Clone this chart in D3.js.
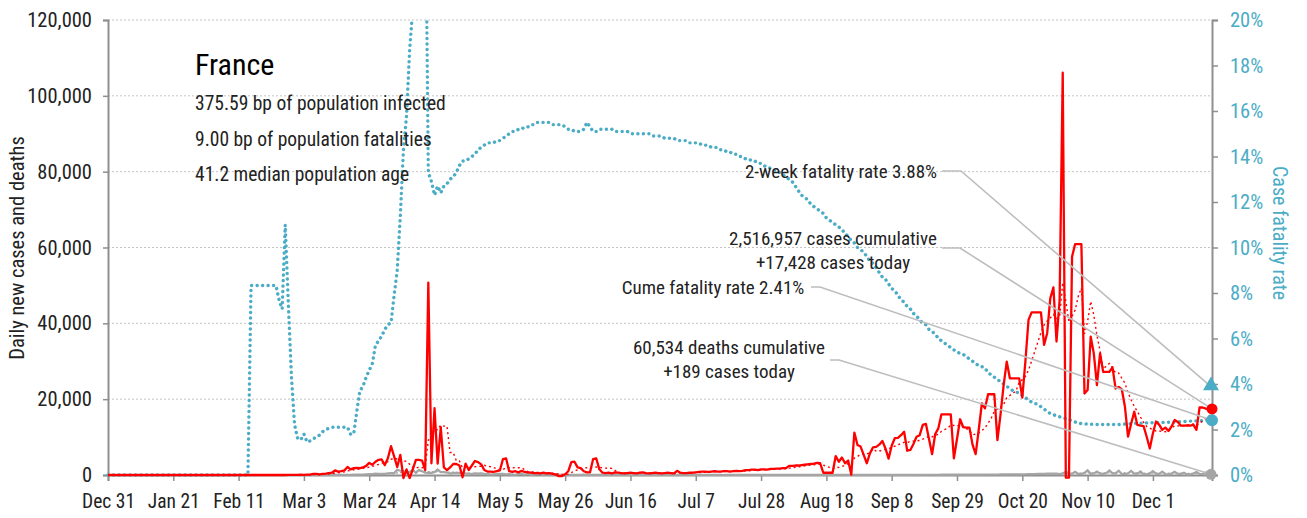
<!DOCTYPE html>
<html><head><meta charset="utf-8">
<script src="https://cdn.jsdelivr.net/npm/d3@7"></script>
<style>
body{margin:0;background:#fff;}
svg text{font-family:"Liberation Sans Narrow","Roboto Condensed","DejaVu Sans Condensed","Arial Narrow",sans-serif;}
</style></head><body>
<svg id="chart" width="1307" height="518"></svg>
<script>
// ---------- DATA ----------
const startDate = [2019, 11, 31]; // Dec 31, 2019 (UTC), one value per day
const cases = [
0,0,0,0,0,0,0,0,0,0,
0,0,0,0,0,0,0,0,0,0,
0,0,0,0,3,0,0,0,1,0,
1,0,0,0,0,0,0,0,1,0,
0,0,0,0,0,0,1,0,0,0,
0,0,0,0,0,0,2,4,20,19,
43,50,60,20,80,100,280,300,180,290,
370,500,600,1200,900,1000,1200,2100,1500,1800,
1900,1800,2000,2400,3200,2700,3500,4000,4100,2600,
4400,7600,4900,2100,5300,-800,1500,-800,1500,4000,
4000,3800,1300,50700,3100,17600,3000,12600,2000,1300,
2000,2900,2900,2500,-600,3000,1300,2500,3700,3400,
2800,1300,900,900,800,1000,1200,4200,4400,1000,
800,1000,700,1100,800,700,600,500,500,400,
600,400,500,300,100,-300,-300,200,1000,3400,
3500,2000,1800,1000,700,700,4200,4400,1500,600,
500,600,400,700,600,500,400,500,600,500,
400,600,700,500,400,500,600,500,400,500,
600,500,400,1100,600,500,500,600,600,700,
800,900,900,800,900,1000,900,900,1000,1000,
900,1000,1100,1000,1100,1300,1300,1400,1400,1300,
1500,1500,1400,1600,1600,1700,1700,1800,1800,2400,
2400,2500,2500,2600,2700,2800,2900,3000,3200,3100,
600,600,600,600,5000,3500,4600,3100,3800,100,
11200,7900,7500,5300,3100,5700,7300,7400,8000,9000,
7000,4300,7700,9700,9800,10500,11400,6400,6600,8200,
10100,10500,13200,13500,9500,5500,10800,12300,16000,16000,
16000,16000,4400,9500,14700,12600,12500,12500,8000,5500,
12000,18900,17600,21300,21300,21300,9200,16000,23700,29900,
25500,25500,25500,25500,20400,30000,40900,42900,42900,42900,
42900,34300,37400,46600,49500,35200,46100,106100,-700,-700,
57600,60900,60900,60900,21500,22400,36500,32000,23700,32100,
27200,27200,27200,28400,22800,23200,22600,18000,10100,13500,
16700,13200,13000,12900,10100,7000,11000,14100,13300,11900,
12500,11600,12800,14500,14000,13000,13000,13100,13000,13300,
11900,17800,17800,17500,17300,17428
];
const deaths = [
0,0,0,0,0,0,0,0,0,0,
0,0,0,0,0,0,0,0,0,0,
0,0,0,0,0,0,0,0,0,0,
0,0,0,0,0,0,0,0,0,0,
0,0,0,0,0,0,1,0,0,0,
0,0,0,0,0,0,0,0,0,0,
0,1,0,1,0,1,2,2,9,9,
14,15,14,13,12,36,21,27,69,128,
78,112,112,186,240,231,365,299,319,292,
418,499,509,1355,1120,1053,518,833,1417,541,
1341,987,635,561,574,762,1438,753,761,642,
395,547,531,544,516,389,369,242,437,367,
427,289,218,166,135,306,330,278,178,243,
80,70,263,348,83,351,104,96,483,131,
186,110,73,90,83,66,65,35,43,52,
57,31,31,100,25,44,46,27,13,29,
24,9,23,29,28,24,10,9,28,111,
14,28,11,22,13,12,22,20,15,19,
25,30,17,15,14,11,7,4,10,14,
15,16,11,10,12,11,7,11,5,12,
16,14,9,8,7,11,9,10,14,13,
12,8,9,10,9,8,11,10,12,9,
11,13,10,12,14,11,15,12,13,16,
14,17,15,18,16,19,17,20,22,21,
19,24,23,25,26,30,28,32,35,33,
30,38,42,40,45,50,48,46,52,55,
58,60,54,62,65,70,68,72,75,80,
78,85,82,90,88,95,100,92,105,110,
98,112,120,125,130,118,135,140,150,145,
160,170,165,180,190,200,220,240,260,280,
300,320,340,360,380,400,230,420,854,385,
363,828,306,271,551,1220,328,425,932,354,
302,506,1219,428,425,1138,276,213,458,1059,
382,357,922,202,184,400,1001,377,310,876,
213,174,377,831,292,294,627,157,150,381,
816,289,261,680,174,189
];
const cfrPct = [
0,0,0,0,0,0,0,0,0,0,
0,0,0,0,0,0,0,0,0,0,
0,0,0,0,0,0,0,0,0,0,
0,0,0,0,0,0,0,0,0,0,
0,0,0,0,0,0,8.33,8.33,8.33,8.33,
8.33,8.33,8.33,8.33,8.33,7.7,7.3,11.0,7.5,4.3,
2.2,1.6,1.55,1.8,1.45,1.5,1.6,1.65,1.75,1.9,
2.0,2.05,2.1,2.1,2.1,2.1,2.1,2.1,1.8,1.8,
2.8,3.7,3.9,4.3,4.6,4.9,5.7,5.9,6.1,6.4,
6.6,6.7,7.9,9.0,11.4,14.3,15.8,18.7,20.5,23.0,
25.0,26.5,27.0,13.3,12.9,12.3,12.7,12.4,12.7,12.8,
13.0,13.1,13.3,13.6,13.8,13.8,13.9,14.0,14.1,14.3,
14.4,14.5,14.6,14.6,14.6,14.7,14.7,14.8,14.9,15.0,
15.1,15.1,15.2,15.2,15.3,15.3,15.4,15.4,15.5,15.5,
15.5,15.5,15.5,15.4,15.4,15.4,15.4,15.3,15.2,15.2,
15.1,15.1,15.1,15.2,15.5,15.3,15.1,15.1,15.2,15.2,
15.2,15.2,15.2,15.1,15.1,15.1,15.1,15.1,15.0,15.0,
15.0,15.0,15.0,15.0,15.0,14.9,14.9,14.9,14.9,14.8,
14.8,14.8,14.8,14.7,14.7,14.7,14.7,14.6,14.6,14.6,
14.6,14.5,14.5,14.5,14.4,14.4,14.4,14.3,14.3,14.2,
14.2,14.1,14.1,14.0,14.0,13.9,13.9,13.8,13.8,13.7,
13.7,13.6,13.5,13.5,13.4,13.3,13.3,13.2,13.1,13.0,
12.9,12.7,12.5,12.3,12.2,12.1,11.9,11.8,11.7,11.6,
11.5,11.3,11.2,11.1,11.0,10.9,10.8,10.6,10.5,10.3,
10.2,10.0,9.9,9.8,9.6,9.4,9.3,9.1,8.9,8.7,
8.6,8.4,8.2,8.1,7.9,7.7,7.6,7.4,7.3,7.1,
7.0,6.8,6.7,6.6,6.4,6.3,6.2,6.0,5.9,5.8,
5.7,5.6,5.5,5.4,5.35,5.3,5.2,5.1,5.0,4.9,
4.8,4.76,4.7,4.5,4.4,4.3,4.2,4.1,4.0,3.9,
3.8,3.7,3.65,3.6,3.5,3.4,3.3,3.2,3.15,3.1,
3.0,2.9,2.8,2.7,2.65,2.6,2.56,2.52,2.48,2.43,
2.38,2.33,2.28,2.26,2.25,2.24,2.23,2.23,2.22,2.22,
2.22,2.22,2.22,2.22,2.22,2.22,2.23,2.24,2.25,2.26,
2.27,2.27,2.28,2.28,2.29,2.29,2.30,2.30,2.31,2.31,
2.32,2.32,2.33,2.33,2.34,2.35,2.35,2.36,2.37,2.37,
2.38,2.38,2.39,2.39,2.40,2.41
];
const leftTicks = [0, 20000, 40000, 60000, 80000, 100000, 120000];
const rightTicks = [0, 2, 4, 6, 8, 10, 12, 14, 16, 18, 20];
const xTickLabels = ["Dec 31","Jan 21","Feb 11","Mar 3","Mar 24","Apr 14","May 5","May 26","Jun 16","Jul 7","Jul 28","Aug 18","Sep 8","Sep 29","Oct 20","Nov 10","Dec 1"];
const xTickStepDays = 21;
const titleText = "France";
const subtitleLines = ["375.59 bp of population infected", "9.00 bp of population fatalities", "41.2 median population age"];
const twoWeekRate = 3.88;
const cumeRate = 2.41;
const casesCumulative = 2516957;
const casesToday = 17428;
const deathsCumulative = 60534;
const deathsToday = 189;

// ---------- CHART ----------
const W = 1307, H = 518;
const L = 108, R = 1212, T = 20, B = 475;
const blue = "#4bacc6", red = "#ff0000", grey = "#a5a5a5", axisGrey = "#8f8f8f", textCol = "#222";
const DAY = 864e5;
const t0 = Date.UTC(startDate[0], startDate[1], startDate[2]);
const dates = cases.map((_, i) => new Date(t0 + i * DAY));

// trailing 7-day averages of the read daily values
const avg7 = arr => arr.map((_, i) => d3.mean(arr.slice(Math.max(0, i - 6), i + 1)));
const casesAvg = avg7(cases);
const deathsAvg = avg7(deaths);

const svg = d3.select("#chart");
const x = d3.scaleUtc().domain([dates[0], dates[dates.length - 1]]).range([L, R]);
const yL = d3.scaleLinear().domain([0, 120000]).range([B, T]);
const yR = d3.scaleLinear().domain([0, 20]).range([B, T]);

svg.append("defs").append("clipPath").attr("id", "clip")
  .append("rect").attr("x", L - 2).attr("y", T).attr("width", R - L + 4).attr("height", H - T);

// gridlines
svg.append("g").selectAll("line").data(leftTicks.filter(v => v > 0)).join("line")
  .attr("x1", L).attr("x2", R).attr("y1", d => yL(d)).attr("y2", d => yL(d))
  .attr("stroke", "#c4c4c4").attr("stroke-width", 1).attr("stroke-dasharray", "2,2");

// axes
const gL = svg.append("g").attr("transform", `translate(${L},0)`)
  .call(d3.axisLeft(yL).tickValues(leftTicks).tickFormat(d3.format(",")).tickSize(5).tickPadding(11));
const gR = svg.append("g").attr("transform", `translate(${R},0)`)
  .call(d3.axisRight(yR).tickValues(rightTicks).tickFormat(d => d + "%").tickSize(6).tickPadding(12));
const tickDates = xTickLabels.map((_, i) => new Date(t0 + i * xTickStepDays * DAY));
const gB = svg.append("g").attr("transform", `translate(0,${B})`)
  .call(d3.axisBottom(x).tickValues(tickDates).tickFormat((d, i) => xTickLabels[i]).tickSize(6).tickPadding(13));
[[gL, "20.5px"], [gR, "20.5px"], [gB, "19.5px"]].forEach(([g, fs]) => {
  g.attr("font-family", null);
  g.select(".domain").attr("stroke", axisGrey).attr("stroke-width", 2);
  g.selectAll(".tick line").attr("stroke", axisGrey).attr("stroke-width", 1.5);
  g.selectAll("text").attr("font-size", fs).attr("fill", textCol);
});
gR.selectAll("text").attr("fill", blue);

// axis titles
svg.append("text").attr("transform", `translate(24,248) rotate(-90)`).attr("text-anchor", "middle")
  .attr("font-size", "20.5px").attr("fill", textCol).text("Daily new cases and deaths");
svg.append("text").attr("transform", `translate(1273,233) rotate(90)`).attr("text-anchor", "middle")
  .attr("font-size", "20px").attr("fill", blue).text("Case fatality rate");

// series
const plot = svg.append("g").attr("clip-path", "url(#clip)");
const lineL = arr => d3.line().x((d, i) => x(dates[i])).y(d => yL(d))(arr);
const lineR = arr => d3.line().x((d, i) => x(dates[i])).y(d => yR(d))(arr);

plot.append("path").attr("d", lineR(cfrPct)).attr("fill", "none").attr("stroke", blue)
  .attr("stroke-width", 3.4).attr("stroke-linecap", "round").attr("stroke-dasharray", "0.1,5.4");
plot.append("path").attr("d", lineL(deaths)).attr("fill", "none").attr("stroke", grey).attr("stroke-width", 2.2);
plot.append("path").attr("d", lineL(deathsAvg)).attr("fill", "none").attr("stroke", grey).attr("stroke-width", 1.3).attr("stroke-dasharray", "2,2");
plot.append("path").attr("d", lineL(cases)).attr("fill", "none").attr("stroke", red).attr("stroke-width", 2.3).attr("stroke-linejoin", "round");
plot.append("path").attr("d", lineL(casesAvg)).attr("fill", "none").attr("stroke", red).attr("stroke-width", 1.4).attr("stroke-dasharray", "2,3");

// end markers
const xe = x(dates[dates.length - 1]);
const pTri = [xe - 1, yR(twoWeekRate)];
const pRed = [xe, yL(casesToday)];
const pBlue = [xe, yR(cumeRate)];
const pGrey = [xe - 1, yL(deathsToday)];

// annotations
const fmt = d3.format(",");
const notes = [
  {lines: [`2-week fatality rate ${twoWeekRate.toFixed(2)}%`], cx: 841, base: 178, lx: 942, lx2: 961, ly: 171, to: pTri},
  {lines: [`${fmt(casesCumulative)} cases cumulative`, `+${fmt(casesToday)} cases today`], cx: 833, base: 245, lx: 942, lx2: 960, ly: 248, to: pRed},
  {lines: [`Cume fatality rate ${cumeRate.toFixed(2)}%`], cx: 713, base: 294, lx: 811, lx2: 820, ly: 287, to: pBlue},
  {lines: [`${fmt(deathsCumulative)} deaths cumulative`, `+${deathsToday} cases today`], cx: 729, base: 354, lx: 830, lx2: 839, ly: 360, to: pGrey}
];
const ann = svg.append("g");
notes.forEach(n => {
  ann.append("polyline").attr("points", `${n.lx},${n.ly} ${n.lx2},${n.ly} ${n.to[0]},${n.to[1]}`)
    .attr("fill", "none").attr("stroke", "#bdbdbd").attr("stroke-width", 1.6);
  n.lines.forEach((t, i) => ann.append("text").attr("x", n.cx).attr("y", n.base + i * 23.5)
    .attr("text-anchor", "middle").attr("font-size", "19px").attr("fill", textCol).text(t));
});

svg.append("path").attr("d", d3.symbol(d3.symbolTriangle, 110)())
  .attr("transform", `translate(${pTri[0]},${pTri[1] - 1})`).attr("fill", blue);
svg.append("circle").attr("cx", pRed[0]).attr("cy", pRed[1]).attr("r", 5.5).attr("fill", red);
svg.append("circle").attr("cx", pBlue[0]).attr("cy", pBlue[1]).attr("r", 6).attr("fill", blue);
svg.append("circle").attr("cx", pGrey[0]).attr("cy", pGrey[1]).attr("r", 5.5).attr("fill", grey);

// title block
svg.append("text").attr("x", 195).attr("y", 75).attr("font-size", "30px").attr("fill", "#000").text(titleText);
subtitleLines.forEach((t, i) => svg.append("text").attr("x", 195).attr("y", 110 + i * 35.5)
  .attr("font-size", "19.5px").attr("fill", textCol).text(t));
</script>
</body></html>
